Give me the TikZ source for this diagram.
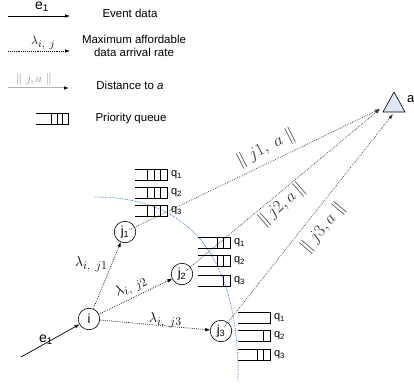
\documentclass[tikz,border=0pt]{standalone}
\usepackage{fontspec}
\setmainfont{Liberation Sans}
\usetikzlibrary{arrows.meta,calc}
\definecolor{trifill}{RGB}{222,231,245}
\definecolor{arcblue}{RGB}{60,115,205}
\newcommand{\prioq}[4]{% left x, centre y, filled slots, slot width
  \draw[qline] (#1,#2-5.5) -- ++(32,0) -- ++(0,11) -- ++(-32,0);
  \ifnum#3>0
    \foreach \k in {1,...,#3}{\draw[qline] (#1+32-#4*\k,#2-5.5) -- ++(0,11);}
  \fi
}
\newcommand{\lamlab}[2]{$\lambda$\raisebox{-3pt}{\fontsize{#2}{#2}\selectfont$i,\ #1$}}
\begin{document}
\begin{tikzpicture}[x=1pt,y=-1pt,
  every node/.style={inner sep=0pt,outer sep=0pt},
  nd/.style={circle,draw,line width=0.6pt,minimum size=21.5pt,font=\fontsize{13}{15}\selectfont},
  dotl/.style={line width=0.7pt,dash pattern=on 0.7pt off 1.2pt},
  tip/.style={-{Latex[length=5pt,width=3.6pt]}},
  qline/.style={line width=0.7pt},
  lbl/.style={font=\fontsize{11.5}{13.5}\selectfont},
  qlbl/.style={font=\fontsize{11}{13}\selectfont,anchor=west},
  dist/.style={font=\fontsize{16}{18}\selectfont,text=black!80},
  lam/.style={font=\fontsize{15}{17}\selectfont},
  arcl/.style={draw=arcblue,line width=0.75pt,dash pattern=on 0.7pt off 1pt}
]
\useasboundingbox (0,0) rectangle (414,390);

% ---------- legend ----------
\coordinate (la0) at (8,16);   \coordinate (la1) at (70,16);
\coordinate (lb0) at (8,51);   \coordinate (lb1) at (70,51);
\coordinate (lc0) at (8,88);   \coordinate (lc1) at (69,88);
\draw[line width=0.7pt,tip] (la0) -- (la1);
\node[font=\fontsize{14}{16}\selectfont] (le) at (42,7) {e\textsubscript{1}};
\node[lbl] (lev) at (130,13) {Event data};
\draw[dotl,tip] (lb0) -- (lb1);
\node[font=\fontsize{13}{15}\selectfont] (llam) at (43,43) {\lamlab{j}{10.5}};
\node[lbl,align=center] (lmax) at (134,46) {Maximum affordable\\data arrival rate};
\draw[black!30,line width=1pt,-{Latex[length=5pt,width=3.6pt,black]}] (lc0) -- (lc1);
\node[font=\fontsize{13}{15}\selectfont,text=black!45] (ldis) at (34,80) {$\|\ j,a\ \|$};
\node[lbl] (ldist) at (130,85) {Distance to \textit{a}};
\prioq{36}{118.5}{3}{5.5}
\node[lbl] (lpq) at (131,119) {Priority queue};

% ---------- destination a ----------
\draw[line width=0.6pt,fill=trifill] (394,92) -- (405,112) -- (383,112) -- cycle;
\coordinate (aL) at (380,109);
\coordinate (aB) at (393,114);
\node[font=\fontsize{13}{15}\selectfont,anchor=west] (alab) at (407,99) {a};

% ---------- range arc ----------
\draw[arcl] (95,197) .. controls (180,197) and (240,245) .. (238,382);

% ---------- nodes ----------
\node[nd] (i)  at (89,319)  {i};
\node[nd] (j1) at (125,232) {j\textsubscript{1}};
\node[nd] (j2) at (182,274) {j\textsubscript{2}};
\node[nd] (j3) at (221,331) {j\textsubscript{3}};
\coordinate (e0) at (21,357);

% ---------- links ----------
\draw[line width=0.7pt,tip] (e0) -- (i);
\node[font=\fontsize{14}{16}\selectfont] (le1) at (46,340) {e\textsubscript{1}};
\draw[dotl,tip] (i) -- (j1);
\draw[dotl,tip] (i) -- (j2) node[midway,sloped,above=3pt,lam] (lam2) {\lamlab{j2}{12}};
\draw[dotl,tip] (i) -- (j3);
\node[lam] (lam1) at (91,264) {\lamlab{j1}{12}};
\node[lam] (lam3) at (165,320) {\lamlab{j3}{12}};

\draw[dotl,black!80,tip,shorten <=5pt] (j1.center) -- (aL);
\draw[dotl,black!80,tip,shorten <=5pt] (j2.center) -- (aL);
\draw[dotl,black!80,tip,shorten <=5pt] (j3.center) -- (aB);
\node[dist,rotate=27] (d1) at (266,148) {$\|\ j1,\ a\ \|$};
\node[dist,rotate=41] (d2) at (282,205) {$\|\,j2,a\,\|$};
\node[dist,rotate=50] (d3) at (323,228) {$\|\ j3,a\ \|$};

% ---------- queues ----------
\prioq{135}{175}{3}{6.5}
\prioq{135}{193}{3}{6.5}
\prioq{135}{211}{3}{6.5}
\node[qlbl] (q11) at (171,175) {q\textsubscript{1}};
\node[qlbl] (q12) at (171,193) {q\textsubscript{2}};
\node[qlbl] (q13) at (171,211) {q\textsubscript{3}};
\prioq{198}{243}{2}{6.5}
\prioq{198}{261}{2}{6.5}
\prioq{198}{281}{1}{6.5}
\node[qlbl] (q21) at (234,243) {q\textsubscript{1}};
\node[qlbl] (q22) at (234,261) {q\textsubscript{2}};
\node[qlbl] (q23) at (234,281) {q\textsubscript{3}};
\prioq{238}{318}{0}{6.5}
\prioq{238}{336}{1}{6.5}
\prioq{238}{355}{2}{6.5}
\node[qlbl] (q31) at (274,318) {q\textsubscript{1}};
\node[qlbl] (q32) at (274,336) {q\textsubscript{2}};
\node[qlbl] (q33) at (274,355) {q\textsubscript{3}};
\end{tikzpicture}
\end{document}
